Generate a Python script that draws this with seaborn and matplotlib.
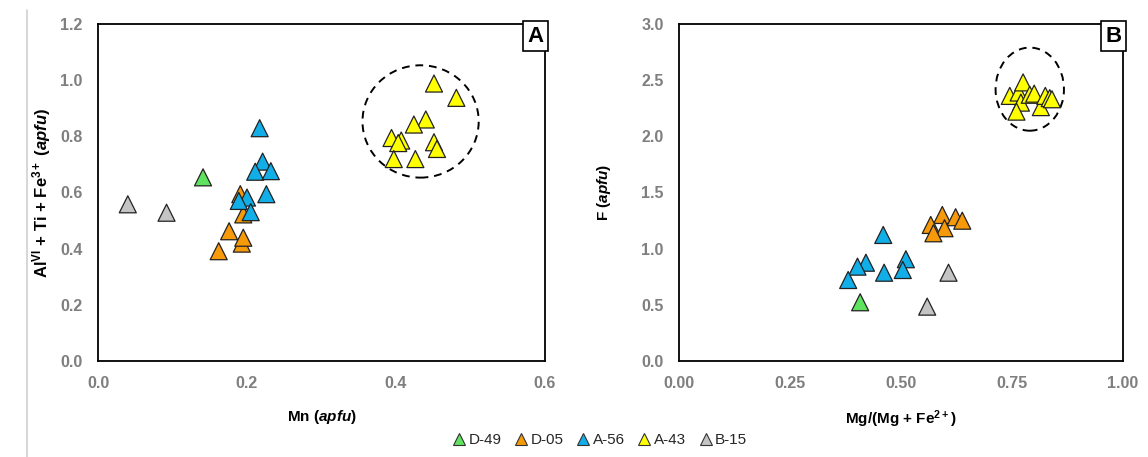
import matplotlib
matplotlib.use("Agg")
import matplotlib.pyplot as plt
import seaborn as sns
import pandas as pd
from matplotlib.patches import Ellipse
from matplotlib.lines import Line2D
from matplotlib.ticker import MultipleLocator

# ---------------- data ----------------
samples = ["D-49", "D-05", "A-56", "A-43", "B-15"]
colors = ["#5fe35f", "#f79a0a", "#12aee8", "#ffff00", "#c4c4c4"]

# Panel A: Mn vs AlVI + Ti + Fe3+
a_d49_x = [0.141]
a_d49_y = [0.654]
a_d05_x = [0.162, 0.176, 0.193, 0.195, 0.195, 0.191]
a_d05_y = [0.391, 0.462, 0.418, 0.439, 0.522, 0.594]
a_a56_x = [0.217, 0.221, 0.211, 0.232, 0.226, 0.200, 0.189, 0.205]
a_a56_y = [0.829, 0.710, 0.674, 0.676, 0.594, 0.582, 0.570, 0.530]
a_a43_x = [0.451, 0.481, 0.440, 0.424, 0.394, 0.407, 0.403, 0.451, 0.455, 0.397, 0.426]
a_a43_y = [0.988, 0.937, 0.860, 0.842, 0.794, 0.785, 0.776, 0.779, 0.755, 0.719, 0.719]
a_b15_x = [0.040, 0.092]
a_b15_y = [0.558, 0.528]

# Panel B: Mg/(Mg+Fe2+) vs F
b_d49_x = [0.408]
b_d49_y = [0.523]
b_d05_x = [0.593, 0.623, 0.638, 0.567, 0.598, 0.573]
b_d05_y = [1.300, 1.280, 1.249, 1.211, 1.182, 1.137]
b_a56_x = [0.460, 0.511, 0.504, 0.421, 0.402, 0.462, 0.381]
b_a56_y = [1.122, 0.906, 0.810, 0.875, 0.840, 0.786, 0.721]
b_a43_x = [0.745, 0.765, 0.775, 0.770, 0.760, 0.790, 0.800, 0.815, 0.825, 0.835, 0.840]
b_a43_y = [2.360, 2.390, 2.480, 2.300, 2.220, 2.370, 2.380, 2.260, 2.360, 2.340, 2.330]
b_b15_x = [0.607, 0.559]
b_b15_y = [0.786, 0.484]

a_xticks = [0.0, 0.2, 0.4, 0.6]
a_yticks = [0.0, 0.2, 0.4, 0.6, 0.8, 1.0, 1.2]
b_xticks = [0.0, 0.25, 0.5, 0.75, 1.0]
b_yticks = [0.0, 0.5, 1.0, 1.5, 2.0, 2.5, 3.0]


def frame(xs, ys):
    rows = []
    for name, xv, yv in zip(samples, xs, ys):
        for x, y in zip(xv, yv):
            rows.append({"x": x, "y": y, "Sample": name})
    return pd.DataFrame(rows)


df_a = frame([a_d49_x, a_d05_x, a_a56_x, a_a43_x, a_b15_x],
             [a_d49_y, a_d05_y, a_a56_y, a_a43_y, a_b15_y])
df_b = frame([b_d49_x, b_d05_x, b_a56_x, b_a43_x, b_b15_x],
             [b_d49_y, b_d05_y, b_a56_y, b_a43_y, b_b15_y])

# ---------------- style ----------------
sns.set_theme(style="white")
plt.rcParams["font.family"] = ["Liberation Sans", "DejaVu Sans"]
plt.rcParams["mathtext.fontset"] = "custom"
plt.rcParams["mathtext.rm"] = "Liberation Sans:bold"
plt.rcParams["mathtext.bf"] = "Liberation Sans:bold"
plt.rcParams["mathtext.it"] = "Liberation Sans:italic:bold"

palette = dict(zip(samples, colors))
tick_color = "#7f7f7f"

fig = plt.figure(figsize=(11.48, 4.57), dpi=100)
W, H = 1148, 457
ax_a = fig.add_axes([98 / W, 1 - 361 / H, (545 - 98) / W, (361 - 24) / H])
ax_b = fig.add_axes([679 / W, 1 - 361 / H, (1123 - 679) / W, (361 - 24) / H])

for ax, df in ((ax_a, df_a), (ax_b, df_b)):
    sns.scatterplot(data=df, x="x", y="y", hue="Sample", hue_order=samples,
                    palette=palette, marker="^", s=150, edgecolor="#222222",
                    linewidth=0.9, legend=False, ax=ax, zorder=3)
    for sp in ax.spines.values():
        sp.set_visible(True)
        sp.set_color("black")
        sp.set_linewidth(1.3)
    ax.tick_params(axis="both", which="both", direction="out", color="black",
                   labelcolor=tick_color, labelsize=11.5, width=1.2)
    ax.tick_params(axis="both", which="major", length=5, pad=6)
    ax.tick_params(axis="both", which="minor", length=4)
    ax.set_facecolor("white")

# panel A axes
ax_a.set_xlim(0, 0.6)
ax_a.set_ylim(0, 1.2)
ax_a.set_xticks(a_xticks)
ax_a.set_yticks(a_yticks)
ax_a.set_xticklabels([f"{v:.1f}" for v in a_xticks], fontweight="bold")
ax_a.set_yticklabels([f"{v:.1f}" for v in a_yticks], fontweight="bold")
ax_a.yaxis.set_minor_locator(MultipleLocator(0.1))
ax_a.set_xlabel(r"Mn ($\it{apfu}$)", fontsize=11, fontweight="bold",
                color="black", labelpad=12)
ax_a.set_ylabel(r"Al$^{\rm VI}$ + Ti + Fe$^{\rm 3+}$ ($\it{apfu}$)", fontsize=12,
                fontweight="bold", color="black", labelpad=5)
ax_a.add_patch(Ellipse((0.433, 0.853), width=0.156, height=0.40, fill=False,
                       edgecolor="black", linestyle=(0, (4, 3)), linewidth=1.4,
                       zorder=2))

# panel B axes
ax_b.set_xlim(0, 1.0)
ax_b.set_ylim(0, 3.0)
ax_b.set_xticks(b_xticks)
ax_b.set_yticks(b_yticks)
ax_b.set_xticklabels([f"{v:.2f}" for v in b_xticks], fontweight="bold")
ax_b.set_yticklabels([f"{v:.1f}" for v in b_yticks], fontweight="bold")
ax_b.set_xlabel(r"Mg/(Mg + Fe$^{\rm 2+}$)", fontsize=11, fontweight="bold",
                color="black", labelpad=12)
ax_b.set_ylabel(r"F ($\it{apfu}$)", fontsize=11, fontweight="bold",
                color="black", labelpad=20)
ax_b.add_patch(Ellipse((0.79, 2.42), width=0.154, height=0.74, fill=False,
                       edgecolor="black", linestyle=(0, (4, 3)), linewidth=1.4,
                       zorder=2))

# panel letters
for ax, letter in ((ax_a, "A"), (ax_b, "B")):
    ax.text(0.997, 0.995, letter, transform=ax.transAxes, ha="right", va="top",
            fontsize=16, fontweight="bold", color="black", zorder=5,
            bbox=dict(boxstyle="square,pad=0.2", facecolor="white",
                      edgecolor="black", linewidth=1.2))

# legend
handles = [Line2D([0], [0], marker="^", linestyle="none", markersize=8,
                  markerfacecolor=c, markeredgecolor="#333333",
                  markeredgewidth=0.8, label=s) for s, c in zip(samples, colors)]
fig.legend(handles=handles, loc="center", bbox_to_anchor=(0.522, 1 - 440 / H),
           ncol=5, frameon=False, fontsize=11, handletextpad=0.1,
           columnspacing=0.8, handlelength=1.0)

# left margin guide line
fig.add_artist(Line2D([27 / W, 27 / W], [0, 1 - 10 / H], color="#d0d0d0",
                      linewidth=1.2, transform=fig.transFigure))

fig.savefig("out.png", dpi=100, facecolor="white")
